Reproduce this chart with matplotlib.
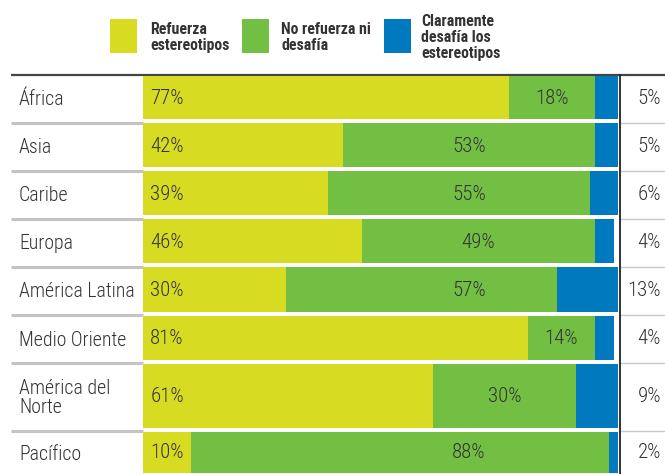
import matplotlib
matplotlib.use("Agg")
import matplotlib.pyplot as plt
from matplotlib.patches import Rectangle

plt.rcParams['font.family'] = ['Roboto Condensed', 'DejaVu Sans']

regions = ["África", "Asia", "Caribe", "Europa", "América Latina", "Medio Oriente",
           "América del\nNorte", "Pacífico"]
refuerza = [77, 42, 39, 46, 30, 81, 61, 10]
no_refuerza = [18, 53, 55, 49, 57, 14, 30, 88]
desafia = [5, 5, 6, 4, 13, 4, 9, 2]
legend_labels = ["Refuerza\nestereotipos", "No refuerza ni\ndesafía", "Claramente\ndesafía los\nestereotipos"]

C_Y = "#D7DB22"
C_G = "#72BF44"
C_B = "#0079BF"
TXT = "#333333"

W, H = 665, 474
fig = plt.figure(figsize=(W / 100, H / 100), dpi=100)

# background axes in pixel coordinates
bg = fig.add_axes([0, 0, 1, 1])
bg.set_xlim(0, W)
bg.set_ylim(H, 0)
bg.axis("off")

# row separators (pixel y)
seps = [75, 122.5, 170.5, 218.5, 266.5, 315, 363, 431, 476]
BX0, BX1 = 143, 618.5

ax = fig.add_axes([BX0 / W, 0, (BX1 - BX0) / W, 1])
ax.set_xlim(0, 100)
ax.set_ylim(H, 0)
ax.axis("off")
ax.patch.set_alpha(0)

VAL_FS = 15
LAB_FS = 14.3

for i, name in enumerate(regions):
    top = seps[i] + 0.5
    bot = seps[i + 1] - 3.5
    h = bot - top
    yc = (top + bot) / 2
    ax.barh(yc, refuerza[i], height=h, left=0, color=C_Y, linewidth=0)
    ax.barh(yc, no_refuerza[i], height=h, left=refuerza[i], color=C_G, linewidth=0)
    ax.barh(yc, desafia[i], height=h, left=refuerza[i] + no_refuerza[i], color=C_B, linewidth=0)
    ax.text(1.5, yc + 1, f"{refuerza[i]}%", ha="left", va="center", fontsize=VAL_FS,
            color=TXT, fontweight=300)
    gx = max(68.5, refuerza[i] + no_refuerza[i] / 2)
    ax.text(gx, yc + 1, f"{no_refuerza[i]}%", ha="center", va="center", fontsize=VAL_FS,
            color=TXT, fontweight=300)
    bg.text(661, yc + 1, f"{desafia[i]}%", ha="right", va="center", fontsize=VAL_FS,
            color=TXT, fontweight=300)
    bg.text(19, yc + 2.5, name, ha="left", va="center", fontsize=LAB_FS, color=TXT,
            linespacing=0.95, fontweight=300)

# separators
for s in seps[1:-1]:
    bg.plot([11, BX0], [s, s], color="#c4c4c4", lw=2.2, solid_capstyle="butt")
    bg.plot([620, W], [s, s], color="#c8c8c8", lw=1.0, solid_capstyle="butt")
bg.plot([11, W], [seps[0], seps[0]], color="#444444", lw=1.6, solid_capstyle="butt", zorder=5)
bg.plot([619.5, 619.5], [seps[0], H], color="#222222", lw=1.3, zorder=5)

# legend
sq_x = [110, 242, 384]
tx_x = [150, 281, 421]
cols = [C_Y, C_G, C_B]
for lab, sx, tx, c in zip(legend_labels, sq_x, tx_x, cols):
    bg.add_patch(Rectangle((sx, 19), 27, 34, color=c, lw=0))
    bg.text(tx, 37.5, lab, ha="left", va="center", fontsize=11.4, fontweight="bold",
            color=TXT, linespacing=1.1)

fig.savefig("out.png", dpi=100)
